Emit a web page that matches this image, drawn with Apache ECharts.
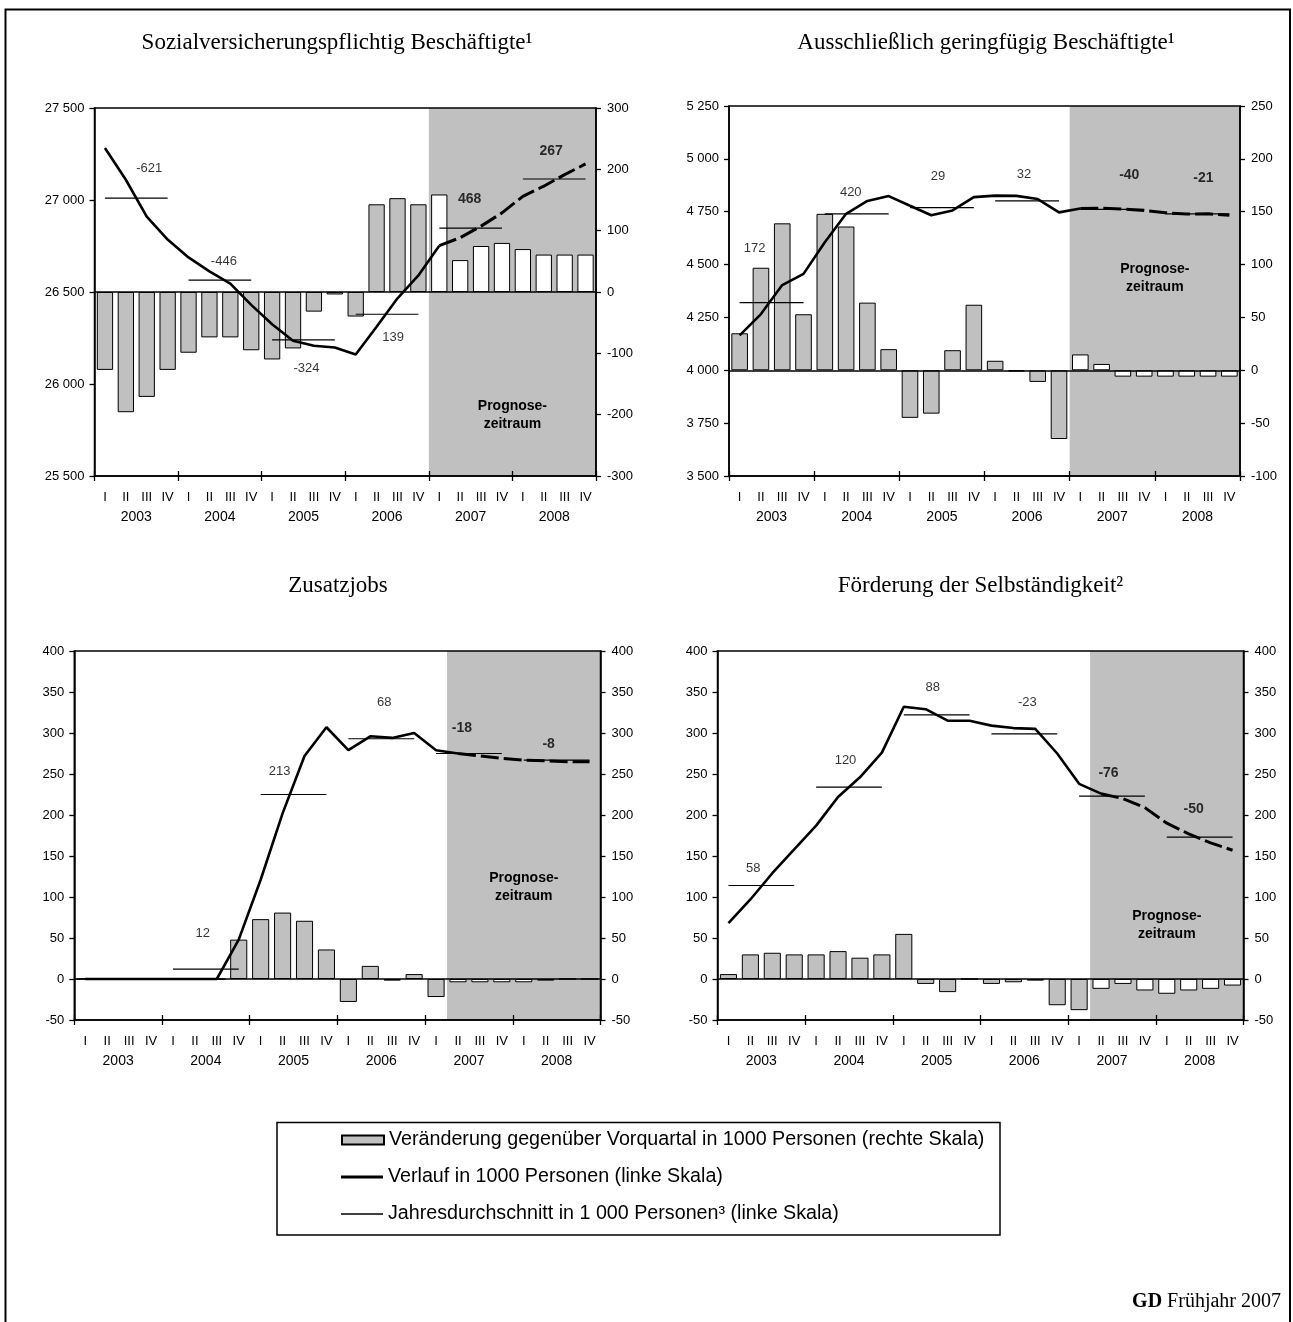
<!DOCTYPE html>
<html><head><meta charset="utf-8">
<script src="https://cdn.jsdelivr.net/npm/echarts@6/dist/echarts.min.js"></script>
<style>html,body{margin:0;padding:0;background:#fff}#chart{width:1293px;height:1322px}</style>
</head><body><div id="chart"></div>
<script>
// ---------- data ----------
const years = ['2003', '2004', '2005', '2006', '2007', '2008'];
const quarterNames = ['I', 'II', 'III', 'IV'];
const quarterLabels = years.flatMap(() => quarterNames);

const titles = [
  'Sozialversicherungspflichtig Beschäftigte¹',
  'Ausschließlich geringfügig Beschäftigte¹',
  'Zusatzjobs',
  'Förderung der Selbständigkeit²'
];

const nameChange = 'Veränderung gegenüber Vorquartal in 1000 Personen (rechte Skala)';
const nameLevel = 'Verlauf in 1000 Personen (linke Skala)';
const nameAvg = 'Jahresdurchschnitt in 1 000 Personen³ (linke Skala)';
const forecastText = 'Prognose-\nzeitraum';
const footerText = '{b|GD} Frühjahr 2007';

// Sozialversicherungspflichtig Beschäftigte
const svbChange = [-127, -196, -171, -127, -99, -74, -74, -95, -110, -92, -32, -4, -40, 143, 153, 143, 159, 52, 75, 80, 70, 61, 61, 61];
const svbLevel = [27283, 27110, 26910, 26785, 26688, 26612, 26546, 26430, 26325, 26235, 26208, 26198, 26160, 26311, 26466, 26590, 26752, 26795, 26858, 26930, 27020, 27075, 27138, 27196];
const svbAvg = [27010, 26564, 26240, 26379, 26847, 27114];
const svbAvgChange = ['-621', '-446', '-324', '139', '468', '267'];

// Ausschließlich geringfügig Beschäftigte
const gfbChange = [35, 97, 139, 53, 148, 136, 64, 20, -45, -41, 19, 62, 9, -1, -11, -65, 15, 6, -6, -6, -6, -6, -6, -6];
const gfbLevel = [4165, 4266, 4403, 4456, 4606, 4740, 4801, 4824, 4778, 4733, 4756, 4819, 4826, 4825, 4810, 4747, 4765, 4767, 4763, 4756, 4745, 4739, 4740, 4733];
const gfbAvg = [4320, 4740, 4769, 4801, 4761, 4740];
const gfbAvgChange = ['172', '420', '29', '32', '-40', '-21'];

// Zusatzjobs
const zjChange = [0, 0, 0, 0, 0, 0, 0, 48, 73, 81, 71, 36, -28, 16, -2, 6, -22, -4, -4, -4, -4, -2, 0, 0];
const zjLevel = [0, 0, 0, 0, 0, 0, 0, 48, 121, 202, 272, 307, 279, 296, 294, 300, 279, 275, 272, 269, 267, 266, 265, 265];
const zjAvg = [0, 12, 225, 293, 275, 267];
const zjAvgChange = [null, '12', '213', '68', '-18', '-8'];

// Förderung der Selbständigkeit
const fsChange = [6, 30, 32, 30, 30, 34, 26, 30, 55, -6, -16, 0, -6, -4, -2, -32, -38, -12, -6, -14, -18, -14, -12, -8];
const fsLevel = [68, 97, 129, 158, 187, 222, 246, 276, 332, 329, 315, 315, 309, 306, 305, 275, 238, 226, 220, 209, 190, 177, 166, 157];
const fsAvg = [114, 234, 322, 299, 223, 173];
const fsAvgChange = ['58', '120', '88', '-23', '-76', '-50'];

// ---------- layout ----------
const SANS = 'Liberation Sans, Arial, sans-serif';
const SERIF = 'Liberation Serif, Times New Roman, serif';
const GRAY = '#c0c0c0';

const panels = [
  { change: svbChange, level: svbLevel, avg: svbAvg, avgText: svbAvgChange,
    grid: { left: 94.5, top: 108, width: 501.5, height: 368 },
    leftAxis: { min: 25500, max: 27500, interval: 500 }, rightAxis: { min: -300, max: 300, interval: 100 },
    fs: 16, title: [337, 43], progDist: 289,
    labelOff: [[13, -30], [4, -19], [3, 29], [6, 23], [-1, -29], [-3, -28]] },
  { change: gfbChange, level: gfbLevel, avg: gfbAvg, avgText: gfbAvgChange,
    grid: { left: 729, top: 106, width: 511, height: 370 },
    leftAxis: { min: 3500, max: 5250, interval: 250 }, rightAxis: { min: -100, max: 250, interval: 50 },
    fs: 16, title: [986, 43], progDist: 154,
    labelOff: [[-17, -54], [-6, -21], [-4, -31], [-3, -27], [17, -34], [6, -36]] },
  { change: zjChange, level: zjLevel, avg: zjAvg, avgText: zjAvgChange,
    grid: { left: 74.3, top: 651, width: 526.2, height: 369 },
    leftAxis: { min: -50, max: 400, interval: 50 }, rightAxis: { min: -50, max: 400, interval: 50 },
    fs: 17, title: [338, 586], progDist: 218,
    labelOff: [[0, 0], [-3, -36], [-14, -23], [3, -36], [-7, -25], [-8, -16]] },
  { change: fsChange, level: fsLevel, avg: fsAvg, avgText: fsAvgChange,
    grid: { left: 717.5, top: 651, width: 526, height: 369 },
    leftAxis: { min: -50, max: 400, interval: 50 }, rightAxis: { min: -50, max: 400, interval: 50 },
    fs: 17, title: [980.5, 586], progDist: 256.5,
    labelOff: [[-8, -17], [-3.5, -27], [-4, -28], [3, -31], [-3.5, -23], [-6, -28]] }
];

function fmtThousands(v) {
  const s = String(Math.abs(v)).replace(/\B(?=(\d{3})+(?!\d))/g, ' ');
  return (v < 0 ? '-' : '') + s;
}

const grid = [], xAxis = [], yAxis = [], series = [], graphic = [];
const tickStyle = { color: '#000', width: 1.3 };

panels.forEach((p, gi) => {
  grid.push(Object.assign({ show: true, borderColor: '#000', borderWidth: 1.5, backgroundColor: 'transparent', z: 4 }, p.grid));
  const xb = gi * 4, yb = gi * 2;
  xAxis.push({
    type: 'category', gridIndex: gi, data: quarterLabels, position: 'bottom', z: 4,
    axisLine: { onZero: false, lineStyle: { color: '#000', width: 1.5 } }, axisTick: { show: false },
    axisLabel: { interval: 0, margin: 15, fontSize: 13, color: '#000', fontFamily: SANS }
  });
  xAxis.push({
    type: 'value', gridIndex: gi, min: 0, max: 24, interval: 4, position: 'bottom', z: 4,
    axisLine: { show: false, onZero: false }, axisLabel: { show: false }, splitLine: { show: false },
    axisTick: { show: true, length: 5, lineStyle: tickStyle }
  });
  xAxis.push({
    type: 'value', gridIndex: gi, min: 0, max: 24, interval: 4, position: 'bottom', z: 4,
    axisLine: { show: false, onZero: false }, axisLabel: { show: false }, splitLine: { show: false },
    axisTick: { show: true, inside: true, length: 5, lineStyle: tickStyle }
  });
  xAxis.push({
    type: 'category', gridIndex: gi, data: years, position: 'bottom', z: 4,
    axisLine: { show: false, onZero: false }, axisTick: { show: false },
    axisLabel: { interval: 0, margin: 34, fontSize: 14, color: '#000', fontFamily: SANS }
  });
  yAxis.push(Object.assign({
    type: 'value', gridIndex: gi, position: 'left', z: 4,
    axisLine: { show: true, onZero: false, lineStyle: { color: '#000', width: 1.5 } },
    axisTick: { show: true, length: 5, lineStyle: tickStyle },
    splitLine: { show: false },
    axisLabel: { margin: 10, fontSize: 13, color: '#000', fontFamily: SANS, formatter: fmtThousands }
  }, p.leftAxis));
  yAxis.push(Object.assign({
    type: 'value', gridIndex: gi, position: 'right', z: 4,
    axisLine: { show: true, onZero: false, lineStyle: { color: '#000', width: 1.5 } },
    axisTick: { show: true, length: 5, lineStyle: tickStyle },
    splitLine: { show: false },
    axisLabel: { margin: 11, fontSize: 13, color: '#000', fontFamily: SANS }
  }, p.rightAxis));

  // forecast shading
  series.push({
    type: 'line', xAxisIndex: xb + 1, yAxisIndex: yb, z: 1, silent: true,
    data: [[p.fs, p.leftAxis.min]], showSymbol: false, lineStyle: { opacity: 0 },
    markArea: {
      silent: true, itemStyle: { color: GRAY },
      label: { show: true, position: 'insideTop', distance: p.progDist, formatter: forecastText,
        fontWeight: 'bold', fontSize: 14, lineHeight: 18, color: '#000', fontFamily: SANS },
      data: [[{ xAxis: p.fs }, { xAxis: 24 }]]
    }
  });
  // quarterly change bars
  series.push({
    name: nameChange, type: 'bar', xAxisIndex: xb, yAxisIndex: yb + 1, z: 2,
    barCategoryGap: '22%',
    itemStyle: { color: GRAY, borderColor: '#000', borderWidth: 1 },
    data: p.change.map((v, i) => i >= p.fs ? { value: v, itemStyle: { color: '#fff' } } : v),
    markLine: { silent: true, symbol: 'none', label: { show: false },
      lineStyle: { color: '#000', width: 1.5, type: 'solid' }, data: [{ yAxis: 0 }] }
  });
  // level line, actual
  series.push({
    name: nameLevel, type: 'line', xAxisIndex: xb, yAxisIndex: yb, z: 3,
    showSymbol: false, itemStyle: { color: '#000' },
    lineStyle: { color: '#000', width: 2.6 },
    data: p.level.map((v, i) => i <= p.fs ? v : '-')
  });
  // level line, forecast
  series.push({
    name: nameLevel, type: 'line', xAxisIndex: xb, yAxisIndex: yb, z: 3,
    showSymbol: false, itemStyle: { color: '#000' },
    lineStyle: { color: '#000', width: 3, type: [18, 5] },
    data: p.level.map((v, i) => i >= p.fs ? v : '-')
  });
  // annual averages
  p.avg.forEach((a, y) => {
    series.push({
      name: nameAvg, type: 'line', xAxisIndex: xb + 1, yAxisIndex: yb, z: 3,
      showSymbol: false, itemStyle: { color: '#000' }, lineStyle: { color: '#000', width: 1.2 },
      data: [[y * 4 + 0.5, a], [y * 4 + 3.5, a]]
    });
  });
  // annual change labels
  series.push({
    type: 'scatter', xAxisIndex: xb + 1, yAxisIndex: yb, z: 5, silent: true,
    symbolSize: 1, itemStyle: { color: 'rgba(0,0,0,0)' },
    data: p.avg.map((a, y) => p.avgText[y] == null ? null : {
      value: [y * 4 + 2, a],
      label: { show: true, position: 'inside', formatter: p.avgText[y], offset: p.labelOff[y],
        fontSize: y >= 4 ? 14 : 13, fontWeight: y >= 4 ? 'bold' : 'normal', color: '#000', fontFamily: SANS }
    }).filter(d => d)
  });

  graphic.push({
    type: 'text', x: p.title[0], y: p.title[1], silent: true,
    style: { text: titles[gi], fontSize: 23, fontFamily: SERIF, fill: '#000', align: 'center', verticalAlign: 'middle' }
  });
});

// frame, legend box, footer
graphic.push({ type: 'rect', silent: true, z: -1,
  shape: { x: 5.5, y: 9.5, width: 1284.5, height: 1340 }, style: { fill: 'none', stroke: '#000', lineWidth: 2 } });
graphic.push({ type: 'rect', silent: true,
  shape: { x: 277, y: 1122.5, width: 723, height: 112.5 }, style: { fill: 'none', stroke: '#000', lineWidth: 1.5 } });
graphic.push({ type: 'text', x: 1281, y: 1302, silent: true,
  style: { text: footerText, fontSize: 20, fontFamily: SERIF, fill: '#000', align: 'right', verticalAlign: 'middle',
    rich: { b: { fontWeight: 'bold', fontSize: 20, fontFamily: SERIF } } } });

const legendBase = { orient: 'horizontal', left: 341, padding: 0, selectedMode: false, itemWidth: 42, icon: 'rect',
  textStyle: { fontSize: 19.7, color: '#000', fontFamily: SANS } };
const legend = [
  Object.assign({}, legendBase, { top: 1130, itemHeight: 9, data: [nameChange] }),
  Object.assign({}, legendBase, { top: 1167, itemHeight: 3, data: [nameLevel] }),
  Object.assign({}, legendBase, { top: 1204, itemHeight: 1.6, data: [nameAvg] })
];

const chart = echarts.init(document.getElementById('chart'), null, { renderer: 'canvas' });
chart.setOption({ animation: false, backgroundColor: '#fff', grid, xAxis, yAxis, series, legend, graphic });
</script></body></html>
